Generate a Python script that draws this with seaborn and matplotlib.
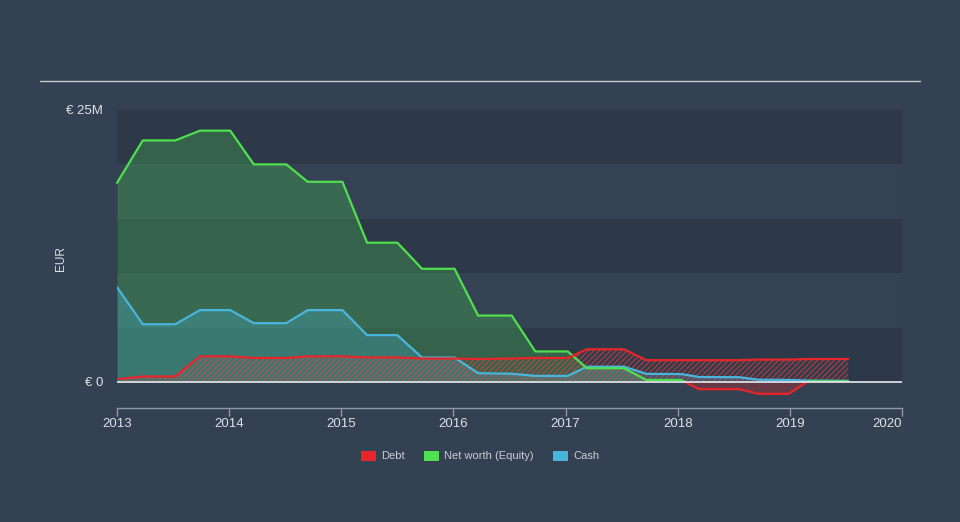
import numpy as np
import pandas as pd
import matplotlib
matplotlib.use("Agg")
import matplotlib.pyplot as plt
import seaborn as sns
from matplotlib.patches import Patch, Rectangle
from matplotlib.lines import Line2D

# ---------------- data (EUR millions) ----------------
years = [2013.00, 2013.23, 2013.52, 2013.74, 2014.01, 2014.22, 2014.51, 2014.70,
         2015.01, 2015.23, 2015.50, 2015.72, 2016.01, 2016.22, 2016.52, 2016.73,
         2017.02, 2017.19, 2017.52, 2017.72, 2018.03, 2018.19, 2018.55, 2018.72,
         2018.99, 2019.16, 2019.52]
debt = [0.25, 0.5, 0.5, 2.35, 2.35, 2.2, 2.2, 2.35,
        2.35, 2.25, 2.25, 2.15, 2.15, 2.1, 2.15, 2.2,
        2.2, 3.0, 3.0, 2.0, 2.0, 2.0, 2.0, 2.05,
        2.05, 2.1, 2.1]
equity = [18.3, 22.2, 22.2, 23.1, 23.1, 20.0, 20.0, 18.4,
          18.4, 12.8, 12.8, 10.4, 10.4, 6.1, 6.1, 2.8,
          2.8, 1.26, 1.26, 0.18, 0.18, -0.67, -0.67, -1.1,
          -1.1, 0.05, 0.05]
cash = [8.7, 5.3, 5.3, 6.6, 6.6, 5.4, 5.4, 6.6,
        6.6, 4.3, 4.3, 2.24, 2.24, 0.8, 0.75, 0.55,
        0.55, 1.4, 1.4, 0.74, 0.72, 0.45, 0.43, 0.2,
        0.18, 0.12, 0.1]
series_names = ["Debt", "Net worth (Equity)", "Cash"]
x_ticks = [2013, 2014, 2015, 2016, 2017, 2018, 2019, 2020]
x_labels = ["2013", "2014", "2015", "2016", "2017", "2018", "2019", "2020"]
y_ticks = [0, 25]
y_labels = ["€ 0", "€ 25M"]
y_label = "EUR"

# ---------------- style ----------------
BG = "#344152"
BAND_DARK = "#2d3949"
BAND_LIGHT = "#344253"
RED = "#e8262a"
GREEN = "#4fe04f"
BLUE = "#48b6dc"
TXT = "#dde1e6"
AXC = "#8d99aa"

sns.set_theme(style="dark")
plt.rcParams["font.family"] = ["Liberation Sans", "DejaVu Sans"]
plt.rcParams["hatch.linewidth"] = 0.7

fig = plt.figure(figsize=(9.6, 5.22), dpi=100, facecolor=BG)
ax = fig.add_axes([117 / 960, 1 - 408 / 522, 785 / 960, 298 / 522])
ax.set_facecolor(BG)
ax.set_xlim(2013, 2020)
ax.set_ylim(-2.4, 25)

# horizontal bands
for i, (lo, hi) in enumerate([(0, 5), (5, 10), (10, 15), (15, 20), (20, 25)]):
    ax.axhspan(lo, hi, color=BAND_DARK if i % 2 == 0 else BAND_LIGHT, lw=0, zorder=0)

pos_clip = Rectangle((2000, 0), 40, 100, transform=ax.transData)
neg_clip = Rectangle((2000, -100), 40, 100, transform=ax.transData)

# fills
g_pos = ax.fill_between(years, 0, equity, color=GREEN, alpha=0.25, lw=0, zorder=1)
g_pos.set_clip_path(pos_clip)
g_neg = ax.fill_between(years, 0, equity, color=RED, alpha=0.28, lw=0, zorder=1)
g_neg.set_clip_path(neg_clip)
ax.fill_between(years, 0, cash, color=BLUE, alpha=0.28, lw=0, zorder=2)
ax.fill_between(years, 0, debt, facecolor=(0.9, 0.2, 0.2, 0.08),
                edgecolor=(0.85, 0.3, 0.3, 0.7), hatch="//////", lw=0, zorder=3)

# lines via seaborn
df = pd.DataFrame({
    "year": years * 3,
    "value": debt + equity + cash,
    "series": [series_names[0]] * len(years) + [series_names[1]] * len(years)
              + [series_names[2]] * len(years),
})
palette = {series_names[0]: RED, series_names[1]: GREEN, series_names[2]: BLUE}
for name in [series_names[2], series_names[1], series_names[0]]:
    sns.lineplot(data=df[df["series"] == name], x="year", y="value", color=palette[name],
                 lw=1.6, ax=ax, zorder=5, legend=False)
    line = ax.lines[-1]
    if name == series_names[1]:
        line.set_clip_path(pos_clip)
        sns.lineplot(data=df[df["series"] == name], x="year", y="value", color=RED,
                     lw=1.6, ax=ax, zorder=5, legend=False)
        ax.lines[-1].set_clip_path(neg_clip)

ax.axhline(0, color="#e6e9ee", lw=1.2, zorder=6)

# axes styling
for s in ["left", "top", "right"]:
    ax.spines[s].set_visible(False)
ax.spines["bottom"].set_color(AXC)
ax.spines["bottom"].set_linewidth(1)
ax.set_xticks(x_ticks)
ax.set_xticklabels(x_labels)
ax.get_xticklabels()[-1].set_horizontalalignment("right")
ax.tick_params(axis="x", direction="out", length=6, width=1, color=AXC,
               labelcolor=TXT, labelsize=9.5, pad=1, bottom=True)
ax.set_yticks(y_ticks)
ax.set_yticklabels(y_labels)
ax.tick_params(axis="y", length=0, labelcolor=TXT, labelsize=9.5, pad=10)
ax.set_xlabel("")
ax.set_ylabel(y_label, color=TXT, fontsize=8.5)
ax.yaxis.set_label_coords(-0.064, 0.5)
ax.grid(False)

# top rule
fig.add_artist(Line2D([40 / 960, 920 / 960], [1 - 81 / 522] * 2, color="#c5cad0", lw=1))

# legend
handles = [Patch(facecolor=RED, edgecolor="none", label=series_names[0]),
           Patch(facecolor=GREEN, edgecolor="none", label=series_names[1]),
           Patch(facecolor=BLUE, edgecolor="none", label=series_names[2])]
fig.legend(handles=handles, loc="center", bbox_to_anchor=(0.5, 1 - 456 / 522), ncol=3,
           frameon=False, fontsize=8, labelcolor="#c8cdd3", handlelength=1.35,
           handleheight=1.05, handletextpad=0.5, columnspacing=1.7)

fig.savefig("out.png", dpi=100, facecolor=BG)
